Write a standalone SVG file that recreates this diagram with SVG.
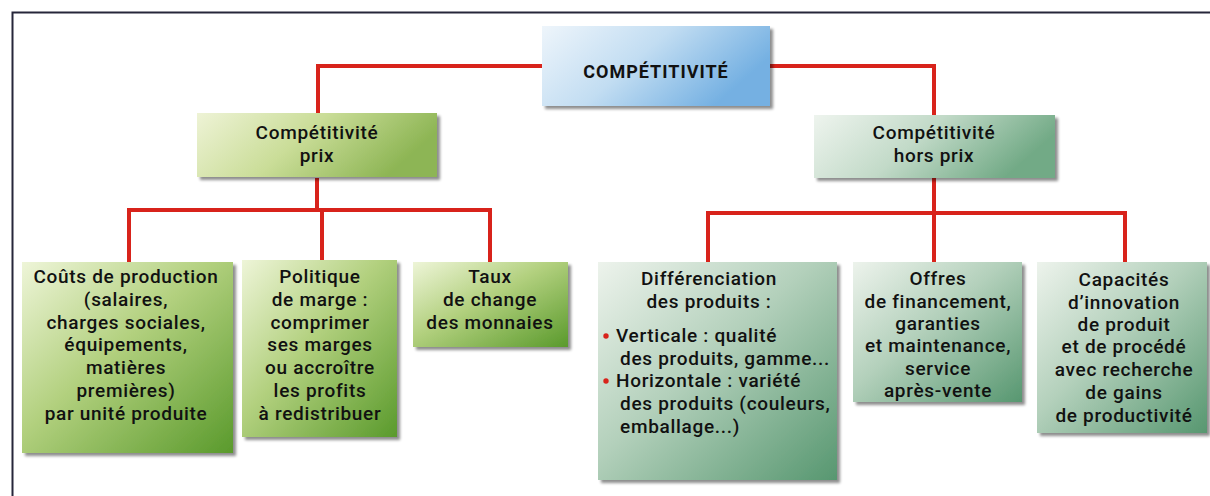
<svg xmlns="http://www.w3.org/2000/svg" width="1210" height="496" viewBox="0 0 1210 496">
<style>
text{font-family:Roboto,"Liberation Sans",sans-serif;font-weight:500;font-size:19px;letter-spacing:0.7px;fill:#111;text-anchor:middle}
.top{font-weight:700;font-size:18px;letter-spacing:1px}
.l{text-anchor:start}
.wire{fill:none;stroke:#d8231b;stroke-width:4;stroke-linejoin:miter}
.frame{fill:none;stroke:#26263a;stroke-width:2}
</style>
<defs>
<filter id="sh" x="-10%" y="-10%" width="130%" height="130%">
<feGaussianBlur in="SourceAlpha" stdDeviation="1.5"/>
<feOffset dx="3" dy="3" result="o"/>
<feComponentTransfer><feFuncA type="linear" slope="0.45"/></feComponentTransfer>
<feMerge><feMergeNode/><feMergeNode in="SourceGraphic"/></feMerge>
</filter>
<linearGradient id="gBlue" x1="0" y1="0" x2="1" y2="0.4">
<stop offset="0" stop-color="#eef5fb"/><stop offset="0.5" stop-color="#c2ddf2"/><stop offset="1" stop-color="#74b0e2"/>
</linearGradient>
<linearGradient id="gPrix" x1="0" y1="0" x2="1" y2="0.3">
<stop offset="0" stop-color="#eef3d6"/><stop offset="0.5" stop-color="#cadd98"/><stop offset="1" stop-color="#8db554"/>
</linearGradient>
<linearGradient id="gHors" x1="0" y1="0" x2="1" y2="0.3">
<stop offset="0" stop-color="#eef4ee"/><stop offset="0.5" stop-color="#c2dac8"/><stop offset="1" stop-color="#72aa86"/>
</linearGradient>
<linearGradient id="gGreen" x1="0" y1="0" x2="1" y2="1">
<stop offset="0" stop-color="#eef5d8"/><stop offset="0.45" stop-color="#b2d07e"/><stop offset="1" stop-color="#5a9a2c"/>
</linearGradient>
<linearGradient id="gTeal" x1="0" y1="0" x2="1" y2="1">
<stop offset="0" stop-color="#edf3ec"/><stop offset="0.45" stop-color="#b3d0bb"/><stop offset="1" stop-color="#579770"/>
</linearGradient>
</defs>
<rect width="1210" height="496" fill="#ffffff"/>
<path class="frame" d="M12.5,496 V12.5 H1210"/>

<g id="connectors">
<path class="wire" d="M542,66 H318 V113"/>
<path class="wire" d="M770,66 H934 V115"/>
<path class="wire" d="M317,178 V210"/>
<path class="wire" d="M129,262 V210 H490 V262"/>
<path class="wire" d="M322,210 V260"/>
<path class="wire" d="M934,178 V213"/>
<path class="wire" d="M708,262 V213 H1125 V262"/>
<path class="wire" d="M934,213 V262"/>
</g>

<g id="competitivite">
<rect x="542" y="26" width="228" height="80" fill="url(#gBlue)" filter="url(#sh)"/>
<text class="top" x="656" y="78">COMPÉTITIVITÉ</text>
</g>

<g id="prix">
<rect x="197" y="113" width="240" height="64" fill="url(#gPrix)" filter="url(#sh)"/>
<text x="317" y="139">Compétitivité</text>
<text x="317" y="162">prix</text>
</g>

<g id="horsprix">
<rect x="814" y="115" width="241" height="63" fill="url(#gHors)" filter="url(#sh)"/>
<text x="934" y="139">Compétitivité</text>
<text x="934" y="162">hors prix</text>
</g>

<g id="couts">
<rect x="22" y="262" width="211" height="191" fill="url(#gGreen)" filter="url(#sh)"/>
<text x="126" y="283">Coûts de production</text>
<text x="126" y="306">(salaires,</text>
<text x="126" y="329">charges sociales,</text>
<text x="126" y="351">équipements,</text>
<text x="126" y="374">matières</text>
<text x="126" y="397">premières)</text>
<text x="126" y="420">par unité produite</text>
</g>

<g id="politique">
<rect x="242" y="260" width="155" height="177" fill="url(#gGreen)" filter="url(#sh)"/>
<text x="320" y="283">Politique</text>
<text x="320" y="306">de marge :</text>
<text x="320" y="329">comprimer</text>
<text x="320" y="351">ses marges</text>
<text x="320" y="374">ou accroître</text>
<text x="320" y="397">les profits</text>
<text x="320" y="420">à redistribuer</text>
</g>

<g id="taux">
<rect x="413" y="262" width="155" height="85" fill="url(#gGreen)" filter="url(#sh)"/>
<text x="490" y="283">Taux</text>
<text x="490" y="306">de change</text>
<text x="490" y="329">des monnaies</text>
</g>

<g id="differenciation">
<rect x="598" y="262" width="239" height="218" fill="url(#gTeal)" filter="url(#sh)"/>
<text x="709" y="285">Différenciation</text>
<text x="709" y="308">des produits :</text>
<circle cx="606" cy="336" r="2.7" fill="#d8231b"/>
<text class="l" x="616" y="342">Verticale : qualité</text>
<text class="l" x="620" y="365">des produits, gamme...</text>
<circle cx="606" cy="381" r="2.7" fill="#d8231b"/>
<text class="l" x="616" y="387">Horizontale : variété</text>
<text class="l" x="620" y="410">des produits (couleurs,</text>
<text class="l" x="620" y="433">emballage...)</text>
</g>

<g id="offres">
<rect x="853" y="262" width="169" height="140" fill="url(#gTeal)" filter="url(#sh)"/>
<text x="938" y="285">Offres</text>
<text x="938" y="308">de financement,</text>
<text x="938" y="330">garanties</text>
<text x="938" y="352">et maintenance,</text>
<text x="938" y="375">service</text>
<text x="938" y="397">après-vente</text>
</g>

<g id="capacites">
<rect x="1037" y="262" width="170" height="171" fill="url(#gTeal)" filter="url(#sh)"/>
<text x="1124" y="286">Capacités</text>
<text x="1124" y="309">d’innovation</text>
<text x="1124" y="331">de produit</text>
<text x="1124" y="353">et de procédé</text>
<text x="1124" y="376">avec recherche</text>
<text x="1124" y="399">de gains</text>
<text x="1124" y="422">de productivité</text>
</g>
</svg>
